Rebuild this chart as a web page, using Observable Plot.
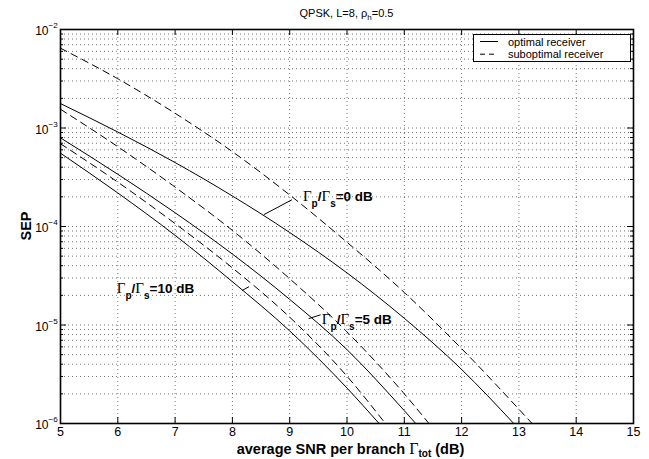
<!DOCTYPE html>
<html><head><meta charset="utf-8">
<script src="https://cdn.jsdelivr.net/npm/d3@7"></script>
<script src="https://cdn.jsdelivr.net/npm/@observablehq/plot@0.6"></script>
<style>
body{margin:0;background:#fff}
svg{font-family:"Liberation Sans",Arial,Helvetica,sans-serif}
</style>
</head><body><div id="chart"></div>
<script>
// ---- data ----
const snrOpt0  = [5, 6, 7, 8, 9, 10, 11, 12, 12.91];
const sepOpt0  = [1.77e-3, 9.1e-4, 4.46e-4, 2.04e-4, 8.69e-5, 3.38e-5, 1.17e-5, 3.54e-6, 1e-6];
const snrSub0  = [5, 6, 7, 8, 9, 10, 11, 12, 13.23];
const sepSub0  = [6.46e-3, 3.16e-3, 1.41e-3, 5.75e-4, 2.09e-4, 6.92e-5, 2.14e-5, 5.75e-6, 1e-6];
const snrOpt5  = [5, 6, 7, 8, 9, 10, 11, 11.2];
const sepOpt5  = [7.94e-4, 3.39e-4, 1.38e-4, 5.25e-5, 1.82e-5, 5.62e-6, 1.35e-6, 1e-6];
const snrSub5  = [5, 6, 7, 8, 9, 10, 11, 11.43];
const sepSub5  = [1.55e-3, 6.46e-4, 2.51e-4, 9.12e-5, 2.95e-5, 8.51e-6, 2.0e-6, 1e-6];
const snrOpt10 = [5, 6, 7, 8, 9, 10, 10.56];
const sepOpt10 = [5.55e-4, 2.19e-4, 8.13e-5, 2.75e-5, 8.71e-6, 2.29e-6, 1e-6];
const snrSub10 = [5, 6, 7, 8, 9, 10, 10.67];
const sepSub10 = [6.92e-4, 2.82e-4, 1.07e-4, 3.80e-5, 1.20e-5, 3.02e-6, 1e-6];

const xTicks = [5, 6, 7, 8, 9, 10, 11, 12, 13, 14, 15];
const yMajor = [1e-6, 1e-5, 1e-4, 1e-3, 1e-2];
const yExponents = ["−6", "−5", "−4", "−3", "−2"];
const legendLabels = ["optimal receiver", "suboptimal receiver"];
const annotations = [
  {ratio: "0",  x: 9.24, y: 2.02e-4, lx1: 8.55, ly1: 1.32e-4, lx2: 9.04, ly2: 1.87e-4},
  {ratio: "5",  x: 9.57, y: 1.14e-5, lx1: 9.33, ly1: 1.16e-5, lx2: 9.54, ly2: 1.27e-5},
  {ratio: "10", x: 5.99, y: 2.37e-5, lx1: 8.17, ly1: 2.24e-5, lx2: 8.29, ly2: 2.45e-5}
];

// ---- build tables ----
const mk = (xs, ys, name, kind) => xs.map((x, i) => ({snr: x, sep: ys[i], name, kind}));
const curves = [
  mk(snrOpt0, sepOpt0, "0", "opt"), mk(snrSub0, sepSub0, "0", "sub"),
  mk(snrOpt5, sepOpt5, "5", "opt"), mk(snrSub5, sepSub5, "5", "sub"),
  mk(snrOpt10, sepOpt10, "10", "opt"), mk(snrSub10, sepSub10, "10", "sub")
];
const yMinor = [];
for (let e = -6; e < -2; e++) for (let m = 2; m <= 9; m++) yMinor.push(m * Math.pow(10, e));
const yGrid = yMinor.concat([1e-5, 1e-4, 1e-3]);
const xGrid = xTicks.slice(1, -1);

const W = 649, H = 459, mL = 60, mR = 16, mT = 29, mB = 36;
const iw = W - mL - mR, ih = H - mT - mB;
const grid = {stroke: "#000", strokeOpacity: 0.55, strokeDasharray: "1,3", strokeWidth: 1};

const marks = [
  Plot.ruleX(xGrid, {x: d => d, ...grid}),
  Plot.ruleY(yGrid, {y: d => d, ...grid}),
  ...curves.map(c => Plot.line(c, {x: "snr", y: "sep", curve: "monotone-x", stroke: "#000", strokeWidth: 1,
      strokeDasharray: c[0].kind === "sub" ? "7,5" : null, clip: true})),
  // inward ticks
  Plot.tickX(xTicks, {x: d => d, insetTop: ih - 6, stroke: "#000"}),
  Plot.tickX(xTicks, {x: d => d, insetBottom: ih - 6, stroke: "#000"}),
  Plot.tickY(yMajor, {y: d => d, insetRight: iw - 6, stroke: "#000"}),
  Plot.tickY(yMajor, {y: d => d, insetLeft: iw - 6, stroke: "#000"}),
  Plot.tickY(yMinor, {y: d => d, insetRight: iw - 3, stroke: "#000"}),
  Plot.tickY(yMinor, {y: d => d, insetLeft: iw - 3, stroke: "#000"}),
  Plot.frame({stroke: "#000", strokeWidth: 1.6}),
  // tick labels
  Plot.text(xTicks, {x: d => d, frameAnchor: "bottom", dy: 12.5, text: d => String(d), fontSize: 12.5, fill: "#000"}),
  Plot.text(yMajor, {y: d => d, frameAnchor: "left", dx: -12, dy: 2, textAnchor: "end", text: () => "10", fontSize: 12, fill: "#000"}),
  Plot.text(yMajor, {y: d => d, frameAnchor: "left", dx: -12, dy: -4, textAnchor: "start", text: (d, i) => yExponents[i], fontSize: 8, fill: "#000"}),
  // annotation leader lines
  Plot.link(annotations, {x1: "lx1", y1: "ly1", x2: "lx2", y2: "ly2", stroke: "#000", strokeWidth: 1})
];

const plot = Plot.plot({
  width: W, height: H,
  marginLeft: mL, marginRight: mR, marginTop: mT, marginBottom: mB,
  x: {domain: [5, 15], axis: null},
  y: {type: "log", domain: [1e-6, 1e-2], axis: null},
  style: {background: "#fff", fontFamily: "Liberation Sans, Arial, sans-serif"},
  marks
});
document.getElementById("chart").appendChild(plot);

// ---- text with sub/superscripts, legend ----
const svg = d3.select(plot);
const sx = plot.scale("x"), sy = plot.scale("y");
const cx = (mL + W - mR) / 2;

const title = svg.append("text").attr("x", cx).attr("y", 17).attr("text-anchor", "middle")
  .attr("font-size", 11).attr("fill", "#000");
title.append("tspan").text("QPSK, L=8, ρ");
title.append("tspan").attr("font-size", 8).attr("dy", 3).text("h");
title.append("tspan").attr("dy", -3).text("=0.5");

const xl = svg.append("text").attr("x", cx + 4).attr("y", 454).attr("text-anchor", "middle")
  .attr("font-size", 14.5).attr("font-weight", "bold").attr("fill", "#000");
xl.append("tspan").text("average SNR per branch ");
xl.append("tspan").attr("font-family", "Liberation Serif, serif").attr("font-weight", "normal").attr("font-size", 16).text("Γ");
xl.append("tspan").attr("font-size", 10).attr("dy", 3).text("tot");
xl.append("tspan").attr("dy", -3).text(" (dB)");

svg.append("text").attr("transform", `translate(31,${(mT + H - mB) / 2}) rotate(-90)`)
  .attr("text-anchor", "middle").attr("font-size", 14.5).attr("font-weight", "bold").attr("fill", "#000").text("SEP");

for (const a of annotations) {
  const t = svg.append("text").attr("x", sx.apply(a.x)).attr("y", sy.apply(a.y) + 5)
    .attr("text-anchor", "start")
    .attr("font-size", 13.5).attr("font-weight", "bold").attr("fill", "#000");
  t.append("tspan").attr("font-family", "Liberation Serif, serif").attr("font-weight", "normal").attr("font-size", 15).text("Γ");
  t.append("tspan").attr("font-size", 10).attr("dy", 6).text("p");
  t.append("tspan").attr("dy", -6).text("/");
  t.append("tspan").attr("font-family", "Liberation Serif, serif").attr("font-weight", "normal").attr("font-size", 15).text("Γ");
  t.append("tspan").attr("font-size", 10).attr("dy", 6).text("s");
  t.append("tspan").attr("dy", -6).text(`=${a.ratio} dB`);
}

const lg = svg.append("g");
lg.append("rect").attr("x", 473.5).attr("y", 34.5).attr("width", 157).attr("height", 27)
  .attr("fill", "#fff").attr("stroke", "#000").attr("stroke-width", 1);
legendLabels.forEach((lab, i) => {
  const y = 41.5 + i * 12.7;
  lg.append("line").attr("x1", 480).attr("x2", 498).attr("y1", y).attr("y2", y)
    .attr("stroke", "#000").attr("stroke-width", 1).attr("stroke-dasharray", i ? "5,4" : null);
  lg.append("text").attr("x", 508).attr("y", y + 4).attr("text-anchor", "start")
    .attr("font-size", 11).attr("fill", "#000").text(lab);
});
</script>
</body></html>
